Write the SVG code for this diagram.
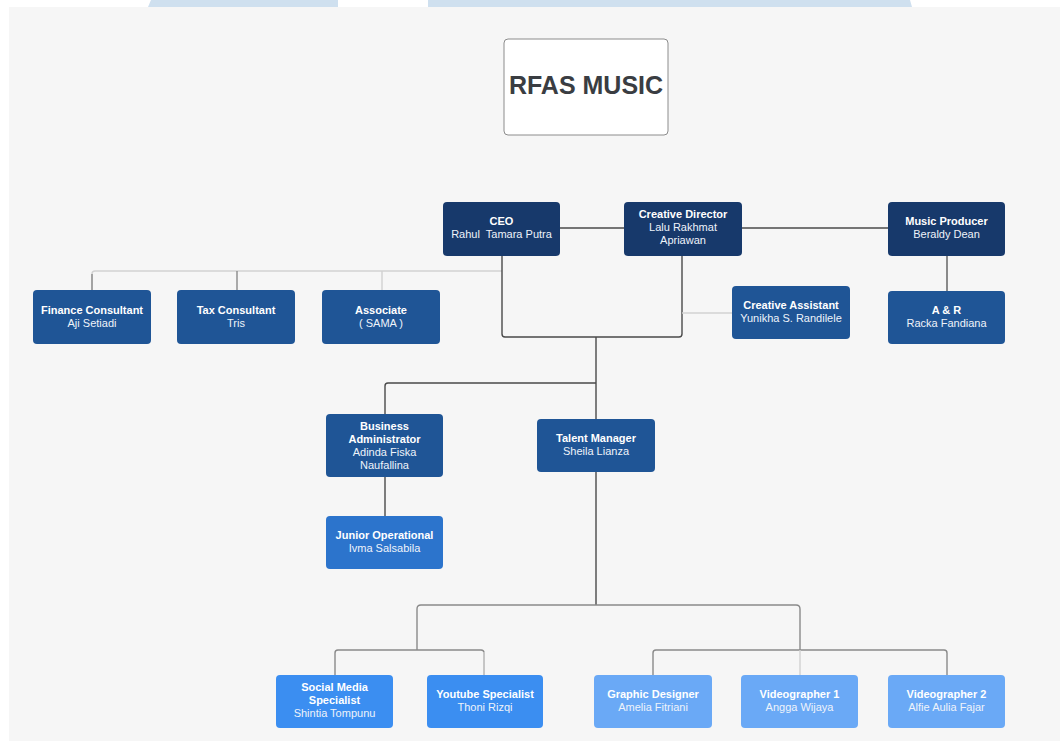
<svg xmlns="http://www.w3.org/2000/svg" width="1060" height="747" viewBox="0 0 1060 747">
<style>
.node rect{rx:4}
.t{font-family:"Liberation Sans",Arial,sans-serif;font-size:11px;fill:#ffffff;text-anchor:middle;font-weight:bold}
.n{font-family:"Liberation Sans",Arial,sans-serif;font-size:11px;fill:#eef3fa;text-anchor:middle}
.c1 rect{fill:#17396b}
.c2 rect{fill:#1f5596}
.c3 rect{fill:#2c74cc}
.c4 rect{fill:#3b8ef1}
.c5 rect{fill:#6aa9f6}
.dk{stroke:#4a4a4a;stroke-width:1.4;fill:none}
.md{stroke:#8a8a8a;stroke-width:1.4;fill:none}
.lt{stroke:#d2d2d2;stroke-width:1.4;fill:none}
</style>
<rect x="0" y="0" width="1060" height="747" fill="#ffffff"/>
<rect x="9" y="7" width="1051" height="734" fill="#f6f6f6"/>
<polygon points="148,7 151,0 338,0 338,7" fill="#cfe0ef"/>
<polygon points="428,0 910,0 912,7 428,7" fill="#cfe0ef"/>

<g id="connectors">
<line class="dk" x1="560" y1="228" x2="624" y2="228"/>
<line class="dk" x1="742" y1="228" x2="888" y2="228"/>
<line class="md" x1="947" y1="256" x2="947" y2="291" style="stroke-width:2"/>
<path class="lt" d="M502,271 H95 Q92,271 92,274 V290"/>
<line class="md" x1="92" y1="274" x2="92" y2="290"/>
<line class="md" x1="237" y1="271" x2="237" y2="290"/>
<line class="lt" x1="382" y1="271" x2="382" y2="290"/>
<path class="dk" d="M502,256 V334 Q502,337 505,337 H679 Q682,337 682,334 V256"/>
<line class="lt" x1="682" y1="313" x2="732" y2="313"/>
<line class="dk" x1="596" y1="337" x2="596" y2="419"/>
<path class="dk" d="M596,383 H388 Q385,383 385,386 V414"/>
<line class="dk" x1="385" y1="477" x2="385" y2="516"/>
<line class="dk" x1="596" y1="472" x2="596" y2="605"/>
<path class="md" d="M596,605 H421 Q417,605 417,609 V650"/>
<path class="md" d="M596,605 H796 Q800,605 800,609 V650"/>
<path class="md" d="M484,675 V653 Q484,650 481,650 H338 Q335,650 335,653 V675"/>
<line class="lt" x1="484" y1="652" x2="484" y2="675"/>
<path class="md" d="M653,675 V653 Q653,650 656,650 H944 Q947,650 947,653 V675"/>
<line class="lt" x1="800" y1="650" x2="800" y2="675"/>
</g>

<g id="rfas">
<rect x="504" y="39" width="164" height="96" rx="4" fill="#ffffff" stroke="#8c8c8c" stroke-width="1"/>
<text x="586" y="94" style="font-family:'Liberation Sans',Arial,sans-serif;font-size:25px;font-weight:bold;fill:#3a3d42;text-anchor:middle">RFAS MUSIC</text>
</g>

<g id="ceo" class="node c1">
<rect x="443" y="202" width="117" height="54"/>
<text class="t" x="501.5" y="225">CEO</text>
<text class="n" x="501.5" y="238" xml:space="preserve">Rahul  Tamara Putra</text>
</g>
<g id="creative-director" class="node c1">
<rect x="624" y="202" width="118" height="54"/>
<text class="t" x="683" y="218">Creative Director</text>
<text class="n" x="683" y="231">Lalu Rakhmat</text>
<text class="n" x="683" y="244">Apriawan</text>
</g>
<g id="music-producer" class="node c1">
<rect x="888" y="202" width="117" height="54"/>
<text class="t" x="946.5" y="225">Music Producer</text>
<text class="n" x="946.5" y="238">Beraldy Dean</text>
</g>

<g id="finance" class="node c2">
<rect x="33" y="290" width="118" height="54"/>
<text class="t" x="92" y="314">Finance Consultant</text>
<text class="n" x="92" y="327">Aji Setiadi</text>
</g>
<g id="tax" class="node c2">
<rect x="177" y="290" width="118" height="54"/>
<text class="t" x="236" y="314">Tax Consultant</text>
<text class="n" x="236" y="327">Tris</text>
</g>
<g id="associate" class="node c2">
<rect x="322" y="290" width="118" height="54"/>
<text class="t" x="381" y="314">Associate</text>
<text class="n" x="381" y="327">( SAMA )</text>
</g>
<g id="creative-assistant" class="node c2">
<rect x="732" y="286" width="118" height="53"/>
<text class="t" x="791" y="309">Creative Assistant</text>
<text class="n" x="791" y="322">Yunikha S. Randilele</text>
</g>
<g id="ar" class="node c2">
<rect x="888" y="291" width="117" height="53"/>
<text class="t" x="946.5" y="314">A &amp; R</text>
<text class="n" x="946.5" y="327">Racka Fandiana</text>
</g>

<g id="business-admin" class="node c2">
<rect x="326" y="414" width="117" height="63"/>
<text class="t" x="384.5" y="430">Business</text>
<text class="t" x="384.5" y="443">Administrator</text>
<text class="n" x="384.5" y="456">Adinda Fiska</text>
<text class="n" x="384.5" y="469">Naufallina</text>
</g>
<g id="talent-manager" class="node c2">
<rect x="537" y="419" width="118" height="53"/>
<text class="t" x="596" y="442">Talent Manager</text>
<text class="n" x="596" y="455">Sheila Lianza</text>
</g>
<g id="junior-operational" class="node c3">
<rect x="326" y="516" width="117" height="53"/>
<text class="t" x="384.5" y="539">Junior Operational</text>
<text class="n" x="384.5" y="552">Ivma Salsabila</text>
</g>

<g id="social-media" class="node c4">
<rect x="276" y="675" width="117" height="53"/>
<text class="t" x="334.5" y="691">Social Media</text>
<text class="t" x="334.5" y="704">Specialist</text>
<text class="n" x="334.5" y="717">Shintia Tompunu</text>
</g>
<g id="youtube" class="node c4">
<rect x="427" y="675" width="116" height="53"/>
<text class="t" x="485" y="698">Youtube Specialist</text>
<text class="n" x="485" y="711">Thoni Rizqi</text>
</g>
<g id="graphic-designer" class="node c5">
<rect x="594" y="675" width="118" height="53"/>
<text class="t" x="653" y="698">Graphic Designer</text>
<text class="n" x="653" y="711">Amelia Fitriani</text>
</g>
<g id="videographer1" class="node c5">
<rect x="741" y="675" width="117" height="53"/>
<text class="t" x="799.5" y="698">Videographer 1</text>
<text class="n" x="799.5" y="711">Angga Wijaya</text>
</g>
<g id="videographer2" class="node c5">
<rect x="888" y="675" width="117" height="53"/>
<text class="t" x="946.5" y="698">Videographer 2</text>
<text class="n" x="946.5" y="711">Alfie Aulia Fajar</text>
</g>
</svg>
